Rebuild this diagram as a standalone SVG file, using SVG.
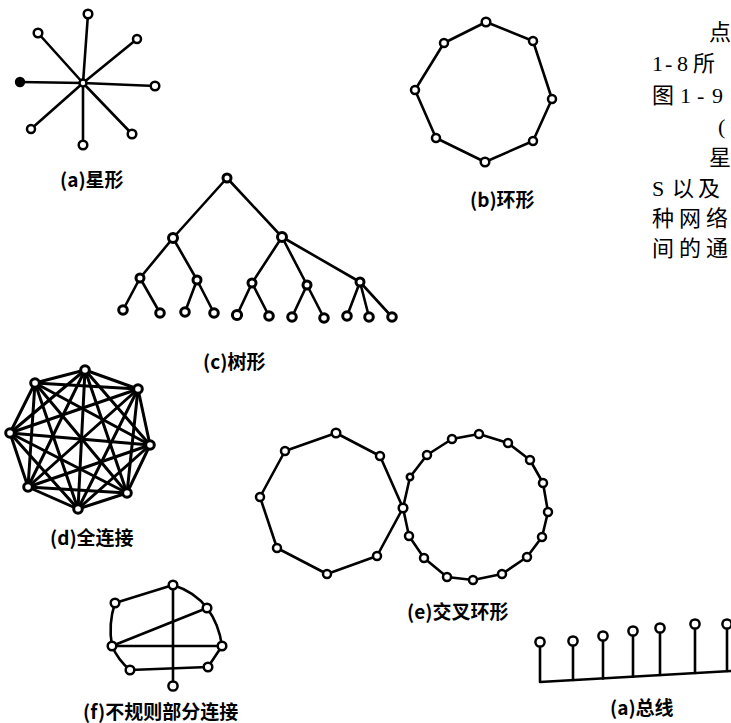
<svg xmlns="http://www.w3.org/2000/svg" width="731" height="723" viewBox="0 0 731 723">
<style>
.e{stroke:#000;stroke-width:2.6;fill:none;stroke-linecap:round;stroke-linejoin:round}
.ef{stroke:#000;stroke-width:3;fill:none;stroke-linecap:round}
.n{fill:#fff;stroke:#000;stroke-width:2.5}
.nb{fill:#fff;stroke:#000;stroke-width:3}
.lbl{font-family:"Noto Sans CJK SC","Liberation Sans",sans-serif;font-weight:bold;font-size:19px;fill:#000}
.txt{font-family:"Liberation Serif","Noto Sans CJK SC",serif;font-size:22px;fill:#000}
</style>
<rect width="731" height="723" fill="#fff"/>
<g id="connectors">
  <g id="star-edges">
    <line class="e" x1="83" y1="83" x2="88" y2="14"/>
    <line class="e" x1="83" y1="83" x2="38" y2="33"/>
    <line class="e" x1="83" y1="83" x2="137" y2="39"/>
    <line class="e" x1="83" y1="83" x2="20" y2="82" stroke-width="3"/>
    <line class="e" x1="83" y1="83" x2="155" y2="86"/>
    <line class="e" x1="83" y1="83" x2="31" y2="129"/>
    <line class="e" x1="83" y1="83" x2="83" y2="145"/>
    <line class="e" x1="83" y1="83" x2="132" y2="134"/>
  </g>
  <polygon id="ring-edges" class="e" points="486,22 533,41 552,99 533,141 485,162 436,138 415,90 444,43"/>
  <g id="tree-edges">
    <line class="e" x1="227" y1="178" x2="173" y2="238"/>
    <line class="e" x1="227" y1="178" x2="282" y2="237"/>
    <line class="e" x1="173" y1="238" x2="140" y2="278"/>
    <line class="e" x1="173" y1="238" x2="197" y2="280"/>
    <line class="e" x1="282" y1="237" x2="252" y2="283"/>
    <line class="e" x1="282" y1="237" x2="307" y2="285"/>
    <line class="e" x1="282" y1="237" x2="360" y2="282"/>
    <line class="e" x1="140" y1="278" x2="123" y2="310"/>
    <line class="e" x1="140" y1="278" x2="160" y2="313"/>
    <line class="e" x1="197" y1="280" x2="185" y2="312"/>
    <line class="e" x1="197" y1="280" x2="214" y2="313"/>
    <line class="e" x1="252" y1="283" x2="237" y2="315"/>
    <line class="e" x1="252" y1="283" x2="269" y2="316"/>
    <line class="e" x1="307" y1="285" x2="292" y2="317"/>
    <line class="e" x1="307" y1="285" x2="324" y2="318"/>
    <line class="e" x1="360" y1="282" x2="347" y2="316"/>
    <line class="e" x1="360" y1="282" x2="369" y2="317"/>
    <line class="e" x1="360" y1="282" x2="392" y2="317"/>
  </g>
  <g id="full-edges">
    <line class="ef" x1="85" y1="370" x2="138" y2="389"/>
    <line class="ef" x1="85" y1="370" x2="150" y2="445"/>
    <line class="ef" x1="85" y1="370" x2="127" y2="493"/>
    <line class="ef" x1="85" y1="370" x2="78" y2="509"/>
    <line class="ef" x1="85" y1="370" x2="28" y2="487"/>
    <line class="ef" x1="85" y1="370" x2="10" y2="433"/>
    <line class="ef" x1="85" y1="370" x2="35" y2="383"/>
    <line class="ef" x1="138" y1="389" x2="150" y2="445"/>
    <line class="ef" x1="138" y1="389" x2="127" y2="493"/>
    <line class="ef" x1="138" y1="389" x2="78" y2="509"/>
    <line class="ef" x1="138" y1="389" x2="28" y2="487"/>
    <line class="ef" x1="138" y1="389" x2="10" y2="433"/>
    <line class="ef" x1="138" y1="389" x2="35" y2="383"/>
    <line class="ef" x1="150" y1="445" x2="127" y2="493"/>
    <line class="ef" x1="150" y1="445" x2="78" y2="509"/>
    <line class="ef" x1="150" y1="445" x2="28" y2="487"/>
    <line class="ef" x1="150" y1="445" x2="10" y2="433"/>
    <line class="ef" x1="150" y1="445" x2="35" y2="383"/>
    <line class="ef" x1="127" y1="493" x2="78" y2="509"/>
    <line class="ef" x1="127" y1="493" x2="28" y2="487"/>
    <line class="ef" x1="127" y1="493" x2="10" y2="433"/>
    <line class="ef" x1="127" y1="493" x2="35" y2="383"/>
    <line class="ef" x1="78" y1="509" x2="28" y2="487"/>
    <line class="ef" x1="78" y1="509" x2="10" y2="433"/>
    <line class="ef" x1="78" y1="509" x2="35" y2="383"/>
    <line class="ef" x1="28" y1="487" x2="10" y2="433"/>
    <line class="ef" x1="28" y1="487" x2="35" y2="383"/>
    <line class="ef" x1="10" y1="433" x2="35" y2="383"/>
  </g>
  <polygon id="cross-left-edges" class="e" points="336,433 380,456 403,508 377,556 327,574 277,548 260,497 285,451"/>
  <polygon id="cross-right-edges" class="e" points="403,508 410,477 427,455 452,439 479,434 508,443 530,460 543,483 548,512 542,537 527,557 502,574 473,580 447,577 424,558 409,536"/>
  <g id="irregular-edges">
    <line class="e" x1="115" y1="603" x2="173" y2="585"/>
    <path class="e" d="M173,585 Q195,592 207,608"/>
    <path class="e" d="M207,608 Q219,624 222,646"/>
    <line class="e" x1="222" y1="646" x2="208" y2="667"/>
    <line class="e" x1="208" y1="667" x2="130" y2="670"/>
    <path class="e" d="M130,670 Q118,660 112,646"/>
    <path class="e" d="M112,646 Q108,624 115,603"/>
    <line class="e" x1="112" y1="646" x2="207" y2="608"/>
    <line class="e" x1="112" y1="646" x2="222" y2="646"/>
    <line class="e" x1="173" y1="585" x2="173" y2="686"/>
  </g>
  <g id="bus-edges">
    <polyline class="e" points="540,642 540,682 731,671"/>
    <line class="e" x1="573" y1="641" x2="573" y2="680"/>
    <line class="e" x1="603" y1="636" x2="603" y2="678.4"/>
    <line class="e" x1="633" y1="631" x2="633" y2="676.6"/>
    <line class="e" x1="660" y1="628" x2="660" y2="675"/>
    <line class="e" x1="695" y1="624" x2="695" y2="673"/>
    <line class="e" x1="727" y1="624" x2="727" y2="671"/>
  </g>
</g>
<g id="star">
  <g id="star-c"><circle class="n" cx="83" cy="83" r="3.5"/></g>
  <g id="star-n1"><circle class="n" cx="88" cy="14" r="4.3"/></g>
  <g id="star-n2"><circle class="n" cx="38" cy="33" r="4.3"/></g>
  <g id="star-n3"><circle class="n" cx="137" cy="39" r="4"/></g>
  <g id="star-n4"><circle cx="20" cy="82" r="5.2" fill="#000"/></g>
  <g id="star-n5"><circle class="n" cx="155" cy="86" r="4.3"/></g>
  <g id="star-n6"><circle class="n" cx="31" cy="129" r="4"/></g>
  <g id="star-n7"><circle class="n" cx="83" cy="145" r="4.3"/></g>
  <g id="star-n8"><circle class="n" cx="132" cy="134" r="4.3"/></g>
</g>
<g id="ring">
  <g id="ring-n1"><circle class="n" cx="486" cy="22" r="4.3"/></g>
  <g id="ring-n2"><circle class="n" cx="533" cy="41" r="4"/></g>
  <g id="ring-n3"><circle class="n" cx="552" cy="99" r="4"/></g>
  <g id="ring-n4"><circle class="n" cx="533" cy="141" r="4"/></g>
  <g id="ring-n5"><circle class="n" cx="485" cy="162" r="4.3"/></g>
  <g id="ring-n6"><circle class="n" cx="436" cy="138" r="4"/></g>
  <g id="ring-n7"><circle class="n" cx="415" cy="90" r="4"/></g>
  <g id="ring-n8"><circle class="n" cx="444" cy="43" r="4"/></g>
</g>
<g id="tree">
  <g id="tree-root"><circle class="nb" cx="227" cy="178" r="4"/></g>
  <g id="tree-a"><circle class="nb" cx="173" cy="238" r="4.5"/></g>
  <g id="tree-b"><circle class="nb" cx="282" cy="237" r="4.5"/></g>
  <g id="tree-a1"><circle class="nb" cx="140" cy="278" r="4"/></g>
  <g id="tree-a2"><circle class="nb" cx="197" cy="280" r="4"/></g>
  <g id="tree-b1"><circle class="nb" cx="252" cy="283" r="4"/></g>
  <g id="tree-b2"><circle class="nb" cx="307" cy="285" r="4"/></g>
  <g id="tree-b3"><circle class="nb" cx="360" cy="282" r="4"/></g>
  <g id="tree-l1"><circle class="nb" cx="123" cy="310" r="4.3"/></g>
  <g id="tree-l2"><circle class="nb" cx="160" cy="313" r="4.3"/></g>
  <g id="tree-l3"><circle class="nb" cx="185" cy="312" r="4.3"/></g>
  <g id="tree-l4"><circle class="nb" cx="214" cy="313" r="4.3"/></g>
  <g id="tree-l5"><circle class="nb" cx="237" cy="315" r="4.6"/></g>
  <g id="tree-l6"><circle class="nb" cx="269" cy="316" r="4.3"/></g>
  <g id="tree-l7"><circle class="nb" cx="292" cy="317" r="4.3"/></g>
  <g id="tree-l8"><circle class="nb" cx="324" cy="318" r="4.3"/></g>
  <g id="tree-l9"><circle class="nb" cx="347" cy="316" r="4.3"/></g>
  <g id="tree-l10"><circle class="nb" cx="369" cy="317" r="4.3"/></g>
  <g id="tree-l11"><circle class="nb" cx="392" cy="317" r="4.3"/></g>
</g>
<g id="full">
  <g id="full-n1"><circle class="nb" cx="85" cy="370" r="4.3"/></g>
  <g id="full-n2"><circle class="nb" cx="138" cy="389" r="4.3"/></g>
  <g id="full-n3"><circle class="nb" cx="150" cy="445" r="4.3"/></g>
  <g id="full-n4"><circle class="nb" cx="127" cy="493" r="4.3"/></g>
  <g id="full-n5"><circle class="nb" cx="78" cy="509" r="4.3"/></g>
  <g id="full-n6"><circle class="nb" cx="28" cy="487" r="4.3"/></g>
  <g id="full-n7"><circle class="nb" cx="10" cy="433" r="4.3"/></g>
  <g id="full-n8"><circle class="nb" cx="35" cy="383" r="4.3"/></g>
</g>
<g id="cross">
  <g id="cl-n1"><circle class="n" cx="336" cy="433" r="4.3"/></g>
  <g id="cl-n2"><circle class="n" cx="380" cy="456" r="4"/></g>
  <g id="cl-n3"><circle class="n" cx="377" cy="556" r="4"/></g>
  <g id="cl-n4"><circle class="n" cx="327" cy="574" r="4"/></g>
  <g id="cl-n5"><circle class="n" cx="277" cy="548" r="4"/></g>
  <g id="cl-n6"><circle class="n" cx="260" cy="497" r="4"/></g>
  <g id="cl-n7"><circle class="n" cx="285" cy="451" r="4"/></g>
  <g id="cx-shared"><circle class="n" cx="403" cy="508" r="4.3"/></g>
  <g id="cr-n1"><circle class="n" cx="410" cy="477" r="3.2"/></g>
  <g id="cr-n2"><circle class="n" cx="427" cy="455" r="4"/></g>
  <g id="cr-n3"><circle class="n" cx="452" cy="439" r="4"/></g>
  <g id="cr-n4"><circle class="n" cx="479" cy="434" r="4"/></g>
  <g id="cr-n5"><circle class="n" cx="508" cy="443" r="4"/></g>
  <g id="cr-n6"><circle class="n" cx="530" cy="460" r="4"/></g>
  <g id="cr-n7"><circle class="n" cx="543" cy="483" r="4"/></g>
  <g id="cr-n8"><circle class="n" cx="548" cy="512" r="4"/></g>
  <g id="cr-n9"><circle class="n" cx="542" cy="537" r="4"/></g>
  <g id="cr-n10"><circle class="n" cx="527" cy="557" r="4"/></g>
  <g id="cr-n11"><circle class="n" cx="502" cy="574" r="4"/></g>
  <g id="cr-n12"><circle class="n" cx="473" cy="580" r="4"/></g>
  <g id="cr-n13"><circle class="n" cx="447" cy="577" r="4"/></g>
  <g id="cr-n14"><circle class="n" cx="424" cy="558" r="4"/></g>
  <g id="cr-n15"><circle class="n" cx="409" cy="536" r="4"/></g>
</g>
<g id="irregular">
  <g id="irr-n1"><circle class="n" cx="173" cy="585" r="4.3"/></g>
  <g id="irr-n2"><circle class="n" cx="115" cy="603" r="4.3"/></g>
  <g id="irr-n3"><circle class="n" cx="207" cy="608" r="4.3"/></g>
  <g id="irr-n4"><circle class="n" cx="112" cy="646" r="4.3"/></g>
  <g id="irr-n5"><circle class="n" cx="222" cy="646" r="4.3"/></g>
  <g id="irr-n6"><circle class="n" cx="130" cy="670" r="4.3"/></g>
  <g id="irr-n7"><circle class="n" cx="208" cy="667" r="4.3"/></g>
  <g id="irr-n8"><circle class="n" cx="173" cy="686" r="4.6"/></g>
</g>
<g id="bus">
  <g id="bus-n1"><circle class="n" cx="540" cy="642" r="4.6"/></g>
  <g id="bus-n2"><circle class="n" cx="573" cy="641" r="4.6"/></g>
  <g id="bus-n3"><circle class="n" cx="603" cy="636" r="4.6"/></g>
  <g id="bus-n4"><circle class="n" cx="633" cy="631" r="4.6"/></g>
  <g id="bus-n5"><circle class="n" cx="660" cy="628" r="4.6"/></g>
  <g id="bus-n6"><circle class="n" cx="695" cy="624" r="4.6"/></g>
  <g id="bus-n7"><circle class="n" cx="727" cy="624" r="4.6"/></g>
</g>
<g id="labels">
  <text class="lbl" x="60" y="187">(a)星形</text>
  <text class="lbl" x="470" y="207">(b)环形</text>
  <text class="lbl" x="203" y="369">(c)树形</text>
  <text class="lbl" x="50" y="545">(d)全连接</text>
  <text class="lbl" x="407" y="619">(e)交叉环形</text>
  <text class="lbl" x="83" y="719">(f)不规则部分连接</text>
  <text class="lbl" x="610" y="715">(a)总线</text>
</g>
<g id="body-text">
  <text class="txt" x="709" y="40">点</text>
  <text class="txt" x="652 665 677 688 693" y="71">1-8 所</text>
  <text class="txt" x="652 675 680 697 712" y="103">图 1-9</text>
  <text class="txt" x="718" y="134">(</text>
  <text class="txt" x="709" y="165">星</text>
  <text class="txt" x="652 664 672 698" y="196">S 以及</text>
  <text class="txt" x="652 679 706" y="226">种网络</text>
  <text class="txt" x="652 679 706" y="256">间的通</text>
</g>
</svg>
